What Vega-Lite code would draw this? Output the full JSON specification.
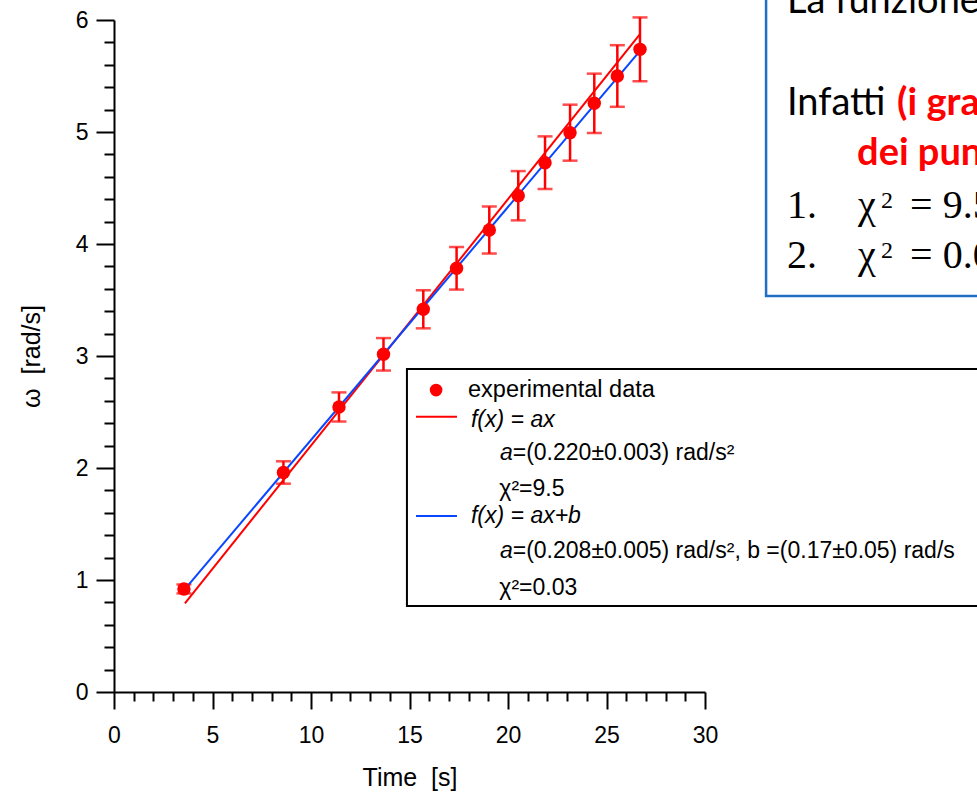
{
  "$schema": "https://vega.github.io/schema/vega-lite/v6.json",
  "width": 591,
  "height": 672,
  "autosize": {"type": "none"},
  "padding": {"left": 114, "top": 20, "right": 272, "bottom": 102},
  "background": "white",
  "config": {"view": {"stroke": null}},
  "data": {"values": [{}]},
  "datasets": {
    "pts": [
      {"t": 3.55, "w": 0.92, "lo": 0.88, "hi": 0.96},
      {"t": 8.6, "w": 1.96, "lo": 1.86, "hi": 2.06},
      {"t": 11.42, "w": 2.545, "lo": 2.415, "hi": 2.675},
      {"t": 13.68, "w": 3.015, "lo": 2.87, "hi": 3.16},
      {"t": 15.7, "w": 3.417, "lo": 3.247, "hi": 3.587},
      {"t": 17.39, "w": 3.783, "lo": 3.593, "hi": 3.973},
      {"t": 19.05, "w": 4.125, "lo": 3.915, "hi": 4.335},
      {"t": 20.52, "w": 4.431, "lo": 4.211, "hi": 4.651},
      {"t": 21.88, "w": 4.726, "lo": 4.491, "hi": 4.961},
      {"t": 23.15, "w": 4.994, "lo": 4.744, "hi": 5.244},
      {"t": 24.38, "w": 5.256, "lo": 4.991, "hi": 5.521},
      {"t": 25.55, "w": 5.5, "lo": 5.225, "hi": 5.775},
      {"t": 26.7, "w": 5.738, "lo": 5.453, "hi": 6.023}
    ],
    "fit": [
      {"t": 3.6, "w": 0.792, "model": "ax"},
      {"t": 26.7, "w": 5.874, "model": "ax"},
      {"t": 3.6, "w": 0.919, "model": "ax+b"},
      {"t": 26.7, "w": 5.724, "model": "ax+b"}
    ]
  },
  "layer": [
    {
      "data": {"name": "pts"},
      "mark": {"type": "rule", "color": "#FF0000", "strokeWidth": 2.5},
      "encoding": {
        "x": {
          "field": "t", "type": "quantitative",
          "scale": {"domain": [0, 30], "nice": false, "zero": false},
          "axis": {
            "values": [0,1,2,3,4,5,6,7,8,9,10,11,12,13,14,15,16,17,18,19,20,21,22,23,24,25,26,27,28,29,30],
            "tickCount": 100,
            "format": "d",
            "labelExpr": "datum.value % 5 === 0 ? datum.label : ''",
            "tickSize": {"condition": {"test": "datum.value % 5 === 0", "value": 17}, "value": 9},
            "grid": false,
            "domainColor": "black", "domainWidth": 2,
            "tickColor": "black", "tickWidth": 2,
            "labelFont": "Liberation Sans", "labelFontSize": 23, "labelColor": "black",
            "labelPadding": 15, "labelFlush": false, "labelOverlap": false,
            "title": "Time\u00a0\u00a0[s]",
            "titleFont": "Liberation Sans", "titleFontSize": 25, "titleFontWeight": "normal", "titleColor": "black",
            "titlePadding": 18
          }
        },
        "y": {
          "field": "lo", "type": "quantitative",
          "scale": {"domain": [0, 6], "nice": false, "zero": false},
          "axis": {
            "values": [0,0.2,0.4,0.6,0.8,1,1.2,1.4,1.6,1.8,2,2.2,2.4,2.6,2.8,3,3.2,3.4,3.6,3.8,4,4.2,4.4,4.6,4.8,5,5.2,5.4,5.6,5.8,6],
            "tickCount": 100,
            "format": ".0f",
            "labelExpr": "datum.value % 1 === 0 ? datum.label : ''",
            "tickSize": {"condition": {"test": "datum.value % 1 === 0", "value": 18}, "value": 10},
            "grid": false,
            "domainColor": "black", "domainWidth": 2,
            "tickColor": "black", "tickWidth": 2,
            "labelFont": "Liberation Sans", "labelFontSize": 23, "labelColor": "black",
            "labelPadding": 8, "labelFlush": false, "labelOverlap": false,
            "title": "ω\u00a0\u00a0[rad/s]",
            "titleFont": "Liberation Sans", "titleFontSize": 25, "titleFontWeight": "normal", "titleColor": "black",
            "titlePadding": 31
          }
        },
        "y2": {"field": "hi"}
      }
    },
    {
      "data": {"name": "pts"},
      "mark": {"type": "tick", "color": "#FF0000", "orient": "horizontal", "size": 15, "thickness": 2.5},
      "encoding": {
        "x": {"field": "t", "type": "quantitative"},
        "y": {"field": "hi", "type": "quantitative"}
      }
    },
    {
      "data": {"name": "pts"},
      "mark": {"type": "tick", "color": "#FF0000", "orient": "horizontal", "size": 15, "thickness": 2.5},
      "encoding": {
        "x": {"field": "t", "type": "quantitative"},
        "y": {"field": "lo", "type": "quantitative"}
      }
    },
    {
      "data": {"name": "fit"},
      "mark": {"type": "line", "strokeWidth": 2},
      "encoding": {
        "x": {"field": "t", "type": "quantitative"},
        "y": {"field": "w", "type": "quantitative"},
        "color": {"field": "model", "type": "nominal", "scale": {"domain": ["ax", "ax+b"], "range": ["#FF0000", "#0A46FF"]}, "legend": null},
        "order": {"field": "model", "sort": "ascending"}
      }
    },
    {
      "data": {"name": "pts"},
      "mark": {"type": "circle", "color": "#FF0000", "opacity": 1, "size": 180},
      "encoding": {
        "x": {"field": "t", "type": "quantitative"},
        "y": {"field": "w", "type": "quantitative"}
      }
    },
    {
      "mark": {"type": "rect", "fill": "white", "stroke": "black", "strokeWidth": 2, "clip": false},
      "encoding": {
        "x": {"datum": 14.87}, "x2": {"datum": 45},
        "y": {"datum": 2.884}, "y2": {"datum": 0.768}
      }
    },
    {
      "mark": {"type": "circle", "color": "#FF0000", "opacity": 1, "size": 160},
      "encoding": {"x": {"datum": 16.35}, "y": {"datum": 2.696}}
    },
    {
      "mark": {"type": "rule", "color": "#FF0000", "strokeWidth": 2},
      "encoding": {"x": {"datum": 15.33}, "x2": {"datum": 17.41}, "y": {"datum": 2.458}}
    },
    {
      "mark": {"type": "rule", "color": "#0A46FF", "strokeWidth": 2},
      "encoding": {"x": {"datum": 15.33}, "x2": {"datum": 17.41}, "y": {"datum": 1.571}}
    },
    {
      "mark": {"type": "text", "text": "experimental data", "align": "left", "baseline": "alphabetic", "font": "Liberation Sans", "fontSize": 23.5, "color": "black"},
      "encoding": {"x": {"datum": 17.97}, "y": {"datum": 2.637}}
    },
    {
      "mark": {"type": "text", "text": "f(x) = ax", "align": "left", "baseline": "alphabetic", "font": "Liberation Sans", "fontSize": 23, "fontStyle": "italic", "color": "black"},
      "encoding": {"x": {"datum": 18.12}, "y": {"datum": 2.369}}
    },
    {
      "mark": {"type": "text", "text": "a", "align": "left", "baseline": "alphabetic", "font": "Liberation Sans", "fontSize": 23, "fontStyle": "italic", "color": "black"},
      "encoding": {"x": {"datum": 19.59}, "y": {"datum": 2.071}}
    },
    {
      "mark": {"type": "text", "text": "=(0.220±0.003) rad/s²", "align": "left", "baseline": "alphabetic", "font": "Liberation Sans", "fontSize": 23, "color": "black"},
      "encoding": {"x": {"datum": 20.24}, "y": {"datum": 2.071}}
    },
    {
      "mark": {"type": "text", "text": "χ²=9.5", "align": "left", "baseline": "alphabetic", "font": "Liberation Sans", "fontSize": 23, "color": "black"},
      "encoding": {"x": {"datum": 19.56}, "y": {"datum": 1.75}}
    },
    {
      "mark": {"type": "text", "text": "f(x) = ax+b", "align": "left", "baseline": "alphabetic", "font": "Liberation Sans", "fontSize": 23, "fontStyle": "italic", "color": "black"},
      "encoding": {"x": {"datum": 18.12}, "y": {"datum": 1.506}}
    },
    {
      "mark": {"type": "text", "text": "a", "align": "left", "baseline": "alphabetic", "font": "Liberation Sans", "fontSize": 23, "fontStyle": "italic", "color": "black"},
      "encoding": {"x": {"datum": 19.59}, "y": {"datum": 1.194}}
    },
    {
      "mark": {"type": "text", "text": "=(0.208±0.005) rad/s², b =(0.17±0.05) rad/s", "align": "left", "baseline": "alphabetic", "font": "Liberation Sans", "fontSize": 23, "color": "black"},
      "encoding": {"x": {"datum": 20.24}, "y": {"datum": 1.194}}
    },
    {
      "mark": {"type": "text", "text": "χ²=0.03", "align": "left", "baseline": "alphabetic", "font": "Liberation Sans", "fontSize": 23, "color": "black"},
      "encoding": {"x": {"datum": 19.56}, "y": {"datum": 0.866}}
    },
    {
      "mark": {"type": "rect", "fill": "white", "stroke": "#1F6FC5", "strokeWidth": 2.5, "clip": false},
      "encoding": {"x": {"datum": 33.1}, "x2": {"datum": 50}, "y": {"datum": 3.536}, "y2": {"datum": 7}}
    },
    {
      "mark": {"type": "text", "text": "La funzione", "align": "left", "baseline": "alphabetic", "font": "Lato", "fontSize": 38, "color": "black"},
      "encoding": {"x": {"datum": 34.16}, "y": {"datum": 6.0625}}
    },
    {
      "mark": {"type": "text", "text": "Infatti", "align": "left", "baseline": "alphabetic", "font": "Lato", "fontSize": 38, "color": "black"},
      "encoding": {"x": {"datum": 34.16}, "y": {"datum": 5.152}}
    },
    {
      "mark": {"type": "text", "text": "(i grafici", "align": "left", "baseline": "alphabetic", "font": "Lato", "fontSize": 38, "fontWeight": "bold", "color": "#FF0000"},
      "encoding": {"x": {"datum": 39.75}, "y": {"datum": 5.152}}
    },
    {
      "mark": {"type": "text", "text": "dei punti", "align": "left", "baseline": "alphabetic", "font": "Lato", "fontSize": 38, "fontWeight": "bold", "color": "#FF0000"},
      "encoding": {"x": {"datum": 37.72}, "y": {"datum": 4.705}}
    },
    {
      "mark": {"type": "text", "text": "1.", "align": "left", "baseline": "alphabetic", "font": "Liberation Serif", "fontSize": 40, "color": "black"},
      "encoding": {"x": {"datum": 34.16}, "y": {"datum": 4.232}}
    },
    {
      "mark": {"type": "text", "text": "χ", "align": "left", "baseline": "alphabetic", "font": "Liberation Serif", "fontSize": 40, "color": "black"},
      "encoding": {"x": {"datum": 37.77}, "y": {"datum": 4.232}}
    },
    {
      "mark": {"type": "text", "text": "2", "align": "left", "baseline": "alphabetic", "font": "Liberation Serif", "fontSize": 24, "color": "black"},
      "encoding": {"x": {"datum": 38.93}, "y": {"datum": 4.321}}
    },
    {
      "mark": {"type": "text", "text": "= 9.5", "align": "left", "baseline": "alphabetic", "font": "Liberation Serif", "fontSize": 40, "color": "black"},
      "encoding": {"x": {"datum": 40.41}, "y": {"datum": 4.232}}
    },
    {
      "mark": {"type": "text", "text": "2.", "align": "left", "baseline": "alphabetic", "font": "Liberation Serif", "fontSize": 40, "color": "black"},
      "encoding": {"x": {"datum": 34.16}, "y": {"datum": 3.786}}
    },
    {
      "mark": {"type": "text", "text": "χ", "align": "left", "baseline": "alphabetic", "font": "Liberation Serif", "fontSize": 40, "color": "black"},
      "encoding": {"x": {"datum": 37.77}, "y": {"datum": 3.786}}
    },
    {
      "mark": {"type": "text", "text": "2", "align": "left", "baseline": "alphabetic", "font": "Liberation Serif", "fontSize": 24, "color": "black"},
      "encoding": {"x": {"datum": 38.93}, "y": {"datum": 3.875}}
    },
    {
      "mark": {"type": "text", "text": "= 0.03", "align": "left", "baseline": "alphabetic", "font": "Liberation Serif", "fontSize": 40, "color": "black"},
      "encoding": {"x": {"datum": 40.41}, "y": {"datum": 3.786}}
    }
  ]
}
